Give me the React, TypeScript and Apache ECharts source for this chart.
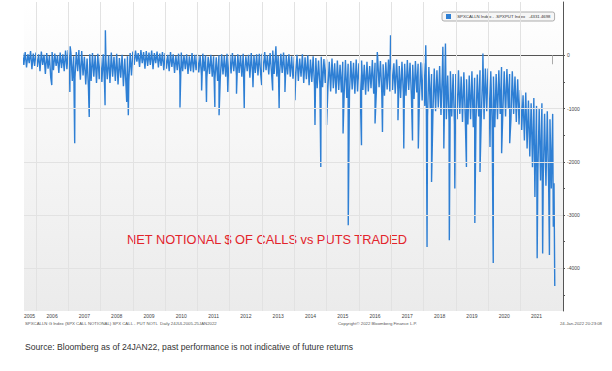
import React, { useEffect, useRef } from "react";
import * as echarts from "echarts";

// Monthly band (upper / lower edge of the dense daily trace), starting Aug 2005
const startYear = 2005;
const startMonth = 8;
const bandHigh: number[] = [
  // 2005 Aug-Dec
  40, 60, 20, 80, 30,
  // 2006
  50, 20, 70, 10, 40, -10, 60, 30, 0, 50, 20, 90,
  // 2007
  100, 40, -20, 60, 0, 80, -30, -60, 20, 40, -10, 30,
  // 2008
  -40, 20, -80, 0, 50, -30, 30, -50, 10, -60, -20, 40,
  // 2009
  70, 90, 40, 100, 60, 80, 50, 90, 40, 70, 30, 60,
  // 2010
  40, 10, 60, 20, -10, 30, 50, 0, 20, -20, 40, 10,
  // 2011
  20, -10, 30, 0, -30, 10, -20, -40, 0, 20, -10, 30,
  // 2012
  10, 40, -10, 20, 0, 30, -20, 10, 40, 0, 20, 30,
  // 2013
  30, 60, 0, 40, 90, 20, -10, 30, 50, 0, 20, -20,
  // 2014
  -30, 10, -60, 20, -40, 0, -80, -20, -50, -100, -30, -70,
  // 2015
  -80, -120, -60, -150, -100, -180, -120, -90, -160, -110, -140, -80,
  // 2016
  -150, -100, -180, -120, -200, -90, -140, -60, -110, -170, -130, -80,
  // 2017
  -100, -150, -80, -200, -120, -160, -90, -140, -180, -110, -160, -130,
  // 2018
  -150, -300, -220, -350, -250, -280, -200, -320, -260, -380, -300, -350,
  // 2019
  -350, -280, -400, -320, -450, -380, -300, -420, -360, -280, -340, -250,
  // 2020
  -250, -300, -400, -350, -280, -220, -300, -260, -350, -300, -400, -450,
  // 2021
  -650, -750, -700, -850, -900, -800, -950, -1000, -900, -1100, -1050, -1200,
  // 2022 Jan
  -1100,
];
const bandLow: number[] = [
  -180, -230, -150, -260, -200,
  -220, -300, -180, -350, -250, -420, -280, -200, -330, -240, -300, -260,
  -350, -480, -420, -300, -460, -380, -550, -600, -480, -400, -520, -450,
  -500, -560, -450, -520, -400, -480, -550, -420, -580, -620, -500, -380,
  -180, -120, -220, -150, -250, -200, -180, -260, -150, -230, -200, -280,
  -250, -300, -220, -330, -280, -380, -300, -260, -350, -300, -320, -280,
  -320, -380, -300, -420, -350, -400, -450, -480, -420, -360, -400, -330,
  -340, -300, -380, -330, -400, -350, -300, -420, -360, -330, -380, -350,
  -320, -280, -360, -300, -350, -400, -380, -330, -420, -360, -400, -440,
  -420, -480, -400, -520, -450, -560, -500, -580, -620, -550, -600, -520,
  -600, -680, -620, -720, -650, -700, -760, -800, -700, -640, -720, -680,
  -700, -650, -740, -680, -620, -720, -660, -600, -700, -760, -640, -680,
  -650, -720, -680, -800, -700, -760, -650, -740, -820, -700, -780, -850,
  -950, -1150, -1000, -1100, -1050, -980, -1120, -1080, -1200, -1250, -1150, -1300,
  -1200, -1100, -1250, -1150, -1300, -1200, -1350, -1250, -1150, -1100, -1200, -1050,
  -1000, -1250, -1350, -1200, -1100, -1050, -1150, -1000, -1200, -1100, -1250, -1300,
  -1400, -1600, -1750, -1900, -2100, -2250, -2200, -2350, -2300, -2450, -2400, -2500,
  -2400,
];
// Single-day spikes: [date as fractional year, value]
const spikes: [number, number][] = [
  [2006.49, -560], [2007.05, -690], [2007.06, 170], [2007.2, -1650], [2007.33, 100],
  [2007.65, -1160], [2008.14, -940], [2008.15, 470], [2008.81, -875], [2008.86, -1125],
  [2010.46, -980], [2011.13, -660], [2011.28, -875], [2011.54, -970], [2011.67, -1125],
  [2011.94, -690], [2012.21, -720], [2012.45, -1000], [2012.72, -600], [2012.99, -560],
  [2013.33, -660], [2013.43, 170], [2013.53, -1000], [2013.71, -690], [2014.02, -845],
  [2014.64, -1310], [2014.82, -2095], [2015.0, -1310], [2015.51, -1470], [2015.67, -3190],
  [2016.08, -1690], [2016.5, -1280], [2016.57, 60], [2016.73, -1440], [2016.98, 375],
  [2017.21, -1220], [2017.39, -1750], [2017.66, -1600], [2017.84, -1750], [2018.07, 190],
  [2018.11, -3600], [2018.25, -2380], [2018.6, 160], [2018.63, -1750], [2018.68, 220],
  [2018.8, -3470], [2018.97, -2500], [2019.33, -2095], [2019.59, -3150], [2019.75, -2190],
  [2019.84, 35], [2020.06, -1720], [2020.16, -3900], [2020.42, -1840], [2020.67, -1650],
  [2020.88, -1090], [2021.45, -2660], [2021.52, -3810], [2021.69, -3720], [2021.9, -3750],
  [2022.02, -3220],
];
const lastDate = 2022.065;
const lastValue = -4331.4698;

const yearTicks = [2006, 2007, 2008, 2009, 2010, 2011, 2012, 2013, 2014, 2015, 2016, 2017, 2018, 2019, 2020, 2021, 2022];
const yearLabelPos = [2005.8, 2006.5, 2007.5, 2008.5, 2009.5, 2010.5, 2011.5, 2012.5, 2013.5, 2014.5, 2015.5, 2016.5, 2017.5, 2018.5, 2019.5, 2020.5, 2021.5];
const yLabels = [0, -1000, -2000, -3000, -4000];
const yTicks = [0, -500, -1000, -1500, -2000, -2500, -3000, -3500, -4000, -4500];

const seriesName = ".SPXCALLN Index - .SPXPUT Index   -4331.4698";
const titleText = "NET NOTIONAL $ OF CALLS vs PUTS TRADED";
const footLeft = "SPXCALLN G Index (SPX CALL NOTIONAL) SPX CALL - PUT NOTL  Daily 24JUL2005-25JAN2022";
const footMid = "Copyright\u00A9 2022 Bloomberg Finance L.P.";
const footRight = "24-Jan-2022 20:23:08";
const sourceText = "Source: Bloomberg as of 24JAN22, past performance is not indicative of future returns";

function buildPoints(): [number, number][] {
  const pts: [number, number][] = [];
  for (let i = 0; i < bandHigh.length; i++) {
    const t = startYear + (startMonth - 1 + i) / 12;
    pts.push([t, bandHigh[i]]);
    pts.push([t + 1 / 24, bandLow[i]]);
  }
  spikes.forEach((s) => pts.push([s[0], s[1]]));
  pts.sort((a, b) => a[0] - b[0]);
  pts.push([lastDate, lastValue]);
  return pts;
}

export default function App() {
  const ref = useRef<HTMLDivElement>(null);
  useEffect(() => {
    if (!ref.current) return;
    const chart = echarts.init(ref.current, undefined, { renderer: "svg" });
    const font = "Liberation Sans";
    chart.setOption({
      animation: false,
      backgroundColor: "#ffffff",
      textStyle: { fontFamily: font },
      grid: {
        left: 24,
        right: 49,
        top: 2,
        bottom: 60,
        show: true,
        borderWidth: 0,
        backgroundColor: new echarts.graphic.LinearGradient(0, 0, 0, 1, [
          { offset: 0, color: "#ffffff" },
          { offset: 1, color: "#ebebeb" },
        ]),
      },
      legend: {
        data: [seriesName],
        left: 442,
        top: 12,
        itemWidth: 5,
        itemHeight: 5,
        icon: "rect",
        padding: [2, 4],
        backgroundColor: "#f6f6f6",
        borderColor: "#9a9a9a",
        borderWidth: 0.8,
        borderRadius: 2,
        textStyle: { fontSize: 4.3, color: "#333", fontFamily: font },
      },
      xAxis: {
        type: "value",
        min: 2005.63,
        max: 2022.32,
        axisLine: { show: true, lineStyle: { color: "#555", width: 1 } },
        axisTick: { show: true, customValues: yearTicks, length: 9, lineStyle: { color: "#aaa" } },
        axisLabel: {
          customValues: yearLabelPos,
          formatter: (v: number) => String(Math.floor(v)),
          fontSize: 5,
          color: "#444",
          margin: 2,
        },
        splitLine: { show: false },
      },
      yAxis: {
        type: "value",
        position: "right",
        min: -4800,
        max: 1000,
        axisLine: { show: true, lineStyle: { color: "#555", width: 1 } },
        axisTick: { show: true, customValues: yTicks, length: 2, lineStyle: { color: "#555" } },
        axisLabel: {
          customValues: yLabels,
          formatter: (v: number) => String(v),
          fontSize: 5,
          color: "#444",
          margin: 4,
        },
        splitLine: { show: false },
      },
      series: [
        {
          name: "grid",
          type: "line",
          z: 0,
          silent: true,
          data: [[2005.63, null]],
          showSymbol: false,
          markLine: {
            silent: true,
            symbol: "none",
            label: { show: false },
            lineStyle: { color: "#e2e2e2", width: 1, type: "solid" },
            data: [
              ...yearTicks.slice(0, -1).map((y) => ({ xAxis: y })),
              ...yLabels.slice(1).map((v) => ({ yAxis: v })),
            ],
          },
        },
        {
          name: seriesName,
          type: "line",
          z: 3,
          data: buildPoints(),
          showSymbol: false,
          symbol: "none",
          lineStyle: { color: "#2e7fd4", width: 1.4 },
          itemStyle: { color: "#2e7fd4" },
          markLine: {
            silent: true,
            symbol: "none",
            data: [
              {
                yAxis: lastValue,
                lineStyle: { opacity: 0 },
                label: {
                  show: true,
                  position: "end",
                  distance: 2,
                  formatter: "-4331.4698",
                  fontSize: 4.3,
                  color: "#ffffff",
                  backgroundColor: "#2e7fd4",
                  borderRadius: 4,
                  padding: [1.5, 3],
                },
              },
            ],
          },
        },
      ],
      graphic: [
        {
          type: "text",
          left: 127,
          top: 233,
          style: { text: titleText, fontSize: 12.8, fill: "#e3242b", fontFamily: font },
        },
        {
          type: "text",
          left: 25,
          top: 321,
          style: { text: footLeft, fontSize: 4.3, fill: "#555", fontFamily: font },
        },
        {
          type: "text",
          left: 338,
          top: 321,
          style: { text: footMid, fontSize: 4.3, fill: "#555", fontFamily: font },
        },
        {
          type: "text",
          right: 10,
          top: 321,
          style: { text: footRight, fontSize: 4.3, fill: "#555", fontFamily: font },
        },
        {
          type: "text",
          left: 25,
          top: 342,
          style: { text: sourceText, fontSize: 8.6, fill: "#333", fontFamily: font },
        },
      ],
    });
    return () => chart.dispose();
  }, []);
  return (
    <div
      ref={ref}
      style={{ position: "fixed", left: 0, top: 0, width: 612, height: 371 }}
    />
  );
}
